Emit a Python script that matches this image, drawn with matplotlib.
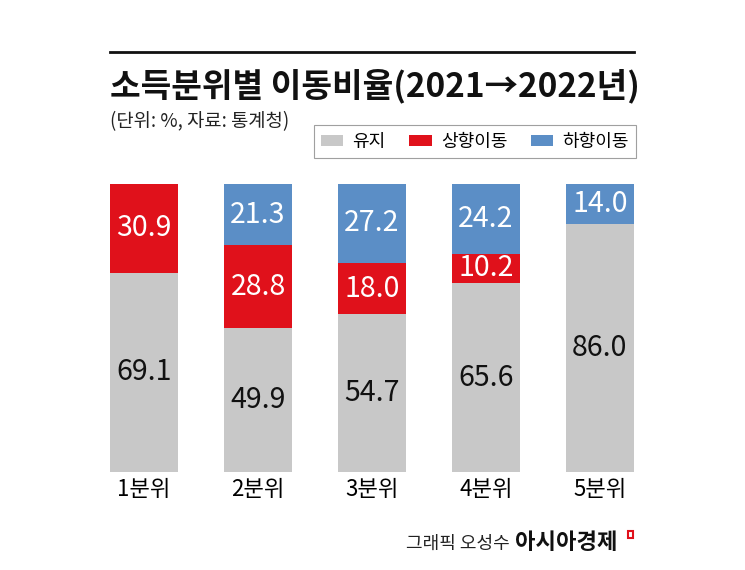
import matplotlib
matplotlib.use("Agg")
import matplotlib.pyplot as plt
from matplotlib.patches import Rectangle, Patch
import numpy as np

plt.rcParams['font.family'] = ['Noto Sans CJK KR', 'DejaVu Sans']

categories = ['1분위', '2분위', '3분위', '4분위', '5분위']
keep = [69.1, 49.9, 54.7, 65.6, 86.0]
up = [30.9, 28.8, 18.0, 10.2, 0.0]
down = [0.0, 21.3, 27.2, 24.2, 14.0]
series_names = ['유지', '상향이동', '하향이동']
colors = ['#c8c8c8', '#e0111b', '#5b8ec6']

fig = plt.figure(figsize=(7.45, 5.7), dpi=100)
ax = fig.add_axes([110/745, 1-472/570, 524/745, 288/570])

x = np.arange(len(categories))
w = 0.6
keep_a = np.array(keep); up_a = np.array(up); down_a = np.array(down)
ax.bar(x, keep_a, w, color=colors[0], label=series_names[0])
ax.bar(x, up_a, w, bottom=keep_a, color=colors[1], label=series_names[1])
ax.bar(x, down_a, w, bottom=keep_a+up_a, color=colors[2], label=series_names[2])

for i in range(len(x)):
    ax.text(x[i], keep_a[i]/2, f'{keep_a[i]:.1f}', ha='center', va='center',
            fontsize=20.5, color='#111111')
    if up_a[i] > 0:
        ax.text(x[i], keep_a[i]+up_a[i]/2, f'{up_a[i]:.1f}', ha='center', va='center',
                fontsize=20.5, color='white')
    if down_a[i] > 0:
        ax.text(x[i], keep_a[i]+up_a[i]+down_a[i]/2, f'{down_a[i]:.1f}', ha='center',
                va='center', fontsize=20.5, color='white')

ax.set_xlim(-w/2, len(x)-1+w/2)
ax.set_ylim(0, 100)
ax.set_xticks(x)
ax.set_xticklabels(categories, fontsize=16)
ax.tick_params(axis='x', length=0, pad=4)
ax.set_yticks([])
for s in ax.spines.values():
    s.set_visible(False)

# top rule
fig.add_artist(plt.Line2D([110/745, 634/745], [1-52/570, 1-52/570], color='#111111', lw=2))
fig.text(110/745, 1-96/570, '소득분위별 이동비율(2021→2022년)', fontsize=24,
         fontweight='bold', ha='left', va='baseline', color='#111111')
fig.text(110/745, 1-127/570, '(단위: %, 자료: 통계청)', fontsize=13.5,
         ha='left', va='baseline', color='#222222')

handles = [Patch(facecolor=c) for c in colors]
leg = fig.legend(handles, series_names, loc='center right', bbox_to_anchor=(636/745, 1-141.5/570),
                 ncol=3, frameon=True, fontsize=13, handlelength=1.25, handleheight=0.55,
                 columnspacing=1.3, handletextpad=0.5, borderpad=0.4, borderaxespad=0,
                 fancybox=False, edgecolor='#888888')
leg.get_frame().set_linewidth(0.8)

fig.text(510/745, 1-549/570, '그래픽 오성수', fontsize=13, ha='right', va='baseline', color='#222222')
fig.text(515/745, 1-549/570, '아시아경제', fontsize=16, fontweight='bold', ha='left',
         va='baseline', color='#111111')
fig.add_artist(Rectangle((628/745, 1-538/570), 5/745, 7/570, transform=fig.transFigure,
                         facecolor='none', edgecolor='#e0111b', lw=1.5))

fig.savefig('out.png', dpi=100)
